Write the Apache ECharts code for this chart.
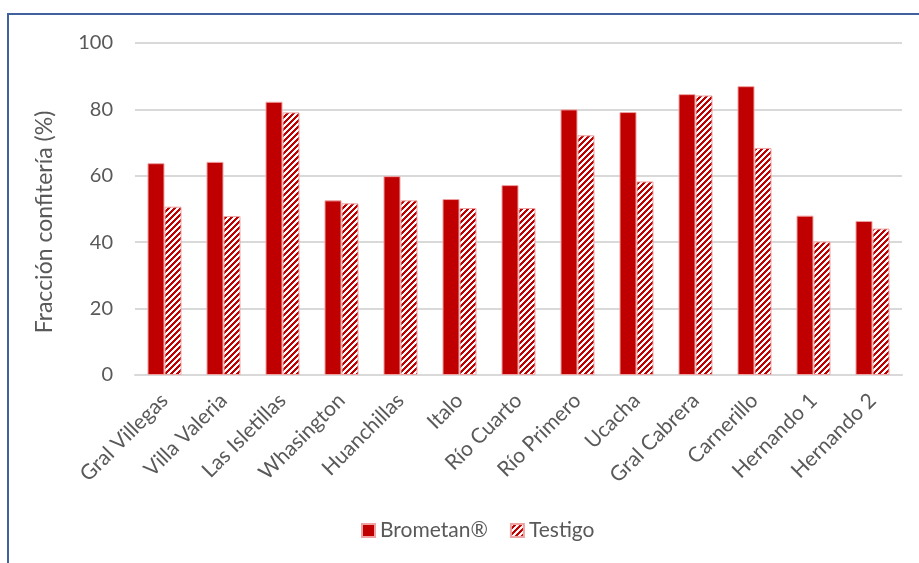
<!DOCTYPE html>
<html>
<head>
<meta charset="utf-8">
<script src="https://cdn.jsdelivr.net/npm/echarts@6/dist/echarts.min.js"></script>
<style>
html,body{margin:0;padding:0;background:#fff;}
#frame{position:absolute;left:7px;top:13px;width:940px;height:600px;border-left:2px solid #41619F;border-top:2px solid #41619F;box-sizing:border-box;}
#chart{position:absolute;left:0;top:0;width:919px;height:563px;}
</style>
</head>
<body>
<div id="frame"></div>
<div id="chart"></div>
<script>
const categories = ["Gral Villegas","Villa Valeria","Las Isletillas","Whasington","Huanchillas","Italo","Río Cuarto","Río Primero","Ucacha","Gral Cabrera","Carnerillo","Hernando 1","Hernando 2"];
const brometan = [63.8, 64.2, 82.3, 52.6, 59.9, 53.0, 57.2, 80.0, 79.2, 84.6, 87.0, 48.0, 46.4];
const testigo  = [50.7, 47.9, 79.1, 51.7, 52.6, 50.3, 50.3, 72.2, 58.3, 84.2, 68.4, 40.2, 44.1];
const yTicks = [0, 20, 40, 60, 80, 100];

const RED = '#C00000';
const cv = document.createElement('canvas');
const P = 6;
cv.width = P; cv.height = P;
const cx = cv.getContext('2d');
const img = cx.createImageData(P, P);
for (let y = 0; y < P; y++) {
  for (let x = 0; x < P; x++) {
    const i = (y * P + x) * 4;
    const white = ((x + y) % P) < 3;
    img.data[i] = white ? 255 : 192;
    img.data[i+1] = white ? 255 : 0;
    img.data[i+2] = white ? 255 : 0;
    img.data[i+3] = 255;
  }
}
cx.putImageData(img, 0, 0);
const hatch = { image: cv, repeat: 'repeat' };

const FONT = 'Lato, "Open Sans", sans-serif';
const chart = echarts.init(document.getElementById('chart'), null, {renderer: 'canvas'});
chart.setOption({
  animation: false,
  textStyle: { fontFamily: FONT },
  grid: { left: 135, right: 17, top: 43, bottom: 188, containLabel: false },
  legend: {
    bottom: 17, left: 356,
    icon: 'rect', itemWidth: 13, itemHeight: 13, itemGap: 22,
    textStyle: { color: '#595959', fontSize: 21, fontFamily: FONT },
    data: ['Brometan®', 'Testigo']
  },
  xAxis: {
    type: 'category',
    data: categories,
    axisTick: { show: false },
    axisLine: { lineStyle: { color: '#D9D9D9', width: 2 } },
    axisLabel: { rotate: 45, color: '#595959', fontSize: 21, margin: 22, interval: 0, fontFamily: FONT }
  },
  yAxis: {
    type: 'value',
    min: yTicks[0], max: yTicks[yTicks.length - 1], interval: 20,
    name: 'Fracción confitería (%)',
    nameLocation: 'middle', nameGap: 79, nameRotate: 90,
    nameTextStyle: { color: '#595959', fontSize: 23, fontFamily: FONT, padding: [0, 26, 0, 0] },
    axisLine: { show: false }, axisTick: { show: false },
    axisLabel: { color: '#595959', fontSize: 20, margin: 22, fontFamily: FONT },
    splitLine: { lineStyle: { color: '#D9D9D9', width: 2 } }
  },
  series: [
    { name: 'Brometan®', type: 'bar', data: brometan, barWidth: 17, barGap: '0%',
      itemStyle: { color: RED, borderColor: '#EFA3A3', borderWidth: 1 } },
    { name: 'Testigo', type: 'bar', data: testigo, barWidth: 17, barGap: '0%',
      itemStyle: { color: hatch, borderColor: '#EFA3A3', borderWidth: 1 } }
  ]
});
</script>
</body>
</html>
